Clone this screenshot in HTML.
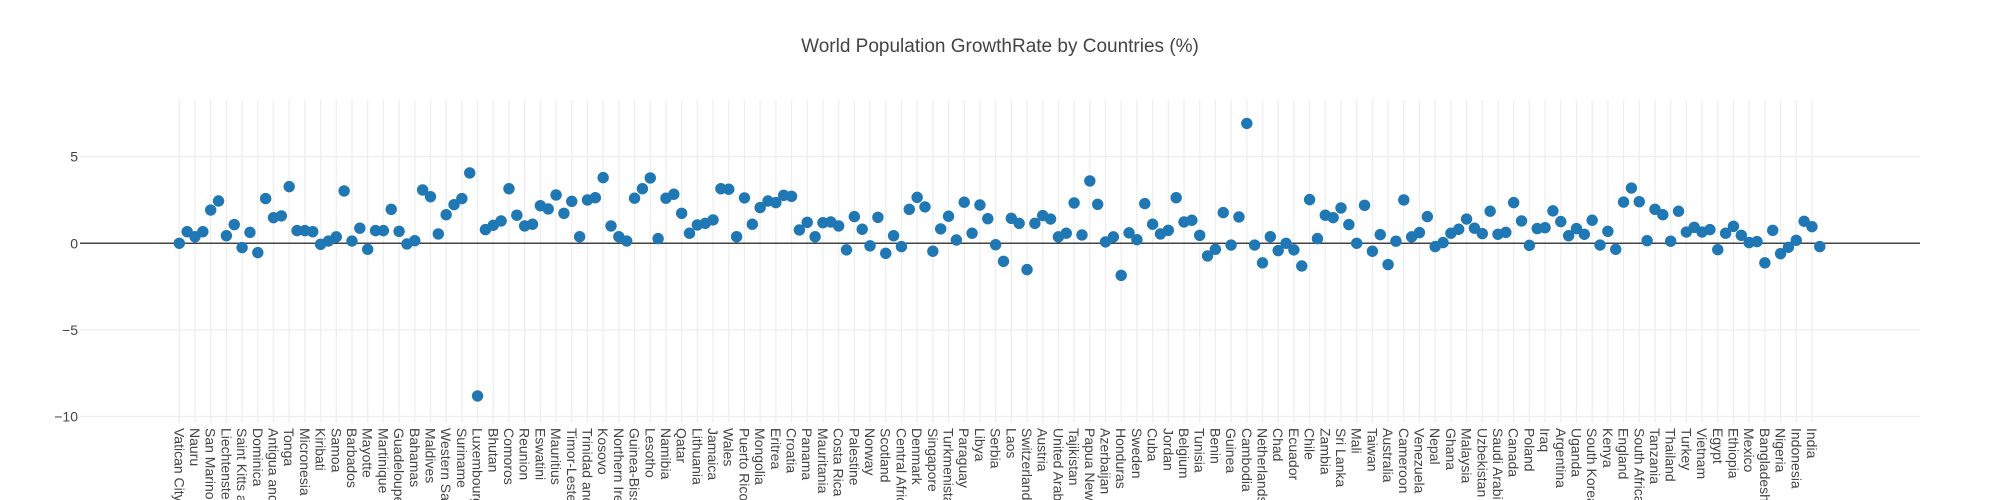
<!DOCTYPE html>
<html><head><meta charset="utf-8"><style>
html,body{margin:0;padding:0;background:#fff;width:2000px;height:500px;overflow:hidden;}
svg{display:block;font-family:"Liberation Sans",sans-serif;overflow:hidden;}
</style></head><body>
<svg id="chart" width="2000" height="500" viewBox="0 0 2000 500">
<defs><clipPath id="frameClip"><rect x="0" y="0" width="2000" height="500"/></clipPath></defs>
<text x="1000" y="52" text-anchor="middle" font-size="19" fill="#444">World Population GrowthRate by Countries (%)</text>
<g id="grid"></g><g id="yticks"></g><g id="xticks" clip-path="url(#frameClip)"></g><g id="points"></g>
</svg>
<script>
const labeledNames = ["Vatican City","Nauru","San Marino","Liechtenstein","Saint Kitts and Nevis","Dominica","Antigua and Barbuda","Tonga","Micronesia","Kiribati","Samoa","Barbados","Mayotte","Martinique","Guadeloupe","Bahamas","Maldives","Western Sahara","Suriname","Luxembourg","Bhutan","Comoros","Reunion","Eswatini","Mauritius","Timor-Leste","Trinidad and Tobago","Kosovo","Northern Ireland","Guinea-Bissau","Lesotho","Namibia","Qatar","Lithuania","Jamaica","Wales","Puerto Rico","Mongolia","Eritrea","Croatia","Panama","Mauritania","Costa Rica","Palestine","Norway","Scotland","Central African Republic","Denmark","Singapore","Turkmenistan","Paraguay","Libya","Serbia","Laos","Switzerland","Austria","United Arab Emirates","Tajikistan","Papua New Guinea","Azerbaijan","Honduras","Sweden","Cuba","Jordan","Belgium","Tunisia","Benin","Guinea","Cambodia","Netherlands","Chad","Ecuador","Chile","Zambia","Sri Lanka","Mali","Taiwan","Australia","Cameroon","Venezuela","Nepal","Ghana","Malaysia","Uzbekistan","Saudi Arabia","Canada","Poland","Iraq","Argentina","Uganda","South Korea","Kenya","England","South Africa","Tanzania","Thailand","Turkey","Vietnam","Egypt","Ethiopia","Mexico","Bangladesh","Nigeria","Indonesia","India"];
const otherNames = ["Tuvalu","Palau","Monaco","Marshall Islands","Saint Lucia","Grenada","Seychelles","Saint Vincent","Andorra","Aruba","Curacao","Guam","Sao Tome","Vanuatu","Belize","Iceland","Brunei","Cape Verde","Malta","Montenegro","Djibouti","Fiji","Equatorial Guinea","Guyana","Solomon Islands","Cyprus","Estonia","Gabon","Gambia","Botswana","Latvia","North Macedonia","Slovenia","Bahrain","Albania","Armenia","Liberia","Moldova","Kuwait","Oman","Georgia","Ireland","New Zealand","Lebanon","Bosnia","Uruguay","Congo","Kyrgyzstan","El Salvador","Slovakia","Nicaragua","Togo","Finland","Sierra Leone","Bulgaria","Israel","Hungary","Belarus","Burundi","Dominican Republic","Haiti","Greece","Portugal","Bolivia","Rwanda","Czech Republic","South Sudan","Somalia","Senegal","Zimbabwe","Guatemala","Kazakhstan","Syria","Romania","Burkina Faso","Malawi","Niger","Yemen","Angola","Mozambique","Ivory Coast","Madagascar","North Korea","Peru","Afghanistan","Morocco","Ukraine","Algeria","Sudan","Spain","Colombia","Myanmar","Italy","Iran","France","Germany","DR Congo","Philippines","Japan","Russia","Brazil","Pakistan","United States","China","Hong Kong"];
const categories = [];
for (let i = 0; i < 105; i++) { categories.push(labeledNames[i]); categories.push(otherNames[i]); }
const growthRates = [0,0.67,0.38,0.67,1.92,2.44,0.44,1.08,-0.25,0.63,-0.54,2.58,1.48,1.58,3.27,0.73,0.73,0.67,-0.06,0.13,0.37,3.02,0.13,0.87,-0.35,0.73,0.73,1.96,0.69,-0.04,0.15,3.08,2.69,0.54,1.65,2.23,2.58,4.06,-8.81,0.79,1.04,1.29,3.15,1.62,1.0,1.10,2.17,1.98,2.79,1.73,2.42,0.38,2.5,2.63,
3.79,1.0,0.38,0.13,2.6,3.15,3.77,0.27,2.6,2.83,1.73,0.58,1.06,1.15,1.35,3.15,3.12,0.38,2.62,1.10,2.06,2.44,2.35,2.77,2.71,0.77,1.21,0.38,1.19,1.23,1.0,-0.38,1.54,0.81,-0.15,1.5,-0.58,0.44,-0.19,1.96,2.65,2.1,-0.46,0.83,1.56,0.19,2.37,0.58,2.21,1.42,-0.08,-1.04,1.44,1.15,-1.52,
1.15,1.6,1.4,0.37,0.58,2.33,0.48,3.6,2.25,0.08,0.37,-1.85,0.6,0.21,2.29,1.10,0.54,0.75,2.63,1.23,1.33,0.46,-0.73,-0.35,1.77,-0.1,1.52,6.92,-0.1,-1.13,0.38,-0.42,0,-0.38,-1.31,2.52,0.27,1.62,1.48,2.04,1.08,0,2.19,-0.46,0.5,-1.23,0.12,2.5,0.37,0.62,1.54,-0.19,0.04,0.58,0.81,1.4,
0.87,0.56,1.85,0.52,0.63,2.35,1.29,-0.12,0.85,0.9,1.87,1.25,0.44,0.85,0.52,1.33,-0.1,0.69,-0.35,2.38,3.19,2.4,0.15,1.96,1.65,0.12,1.85,0.65,0.92,0.65,0.79,-0.37,0.58,0.98,0.46,0.04,0.1,-1.13,0.75,-0.6,-0.23,0.17,1.27,0.96,-0.19];
const yTickValues = [5, 0, -5, -10];
const yTickLabels = ["5", "0", "\u22125", "\u221210"];

const NS = "http://www.w3.org/2000/svg";
const PLOT_L = 80, PLOT_R = 1920, PLOT_T = 100, PLOT_B = 420;
const Y_MIN = -10.2, Y_MAX = 8.27;
function xScale(i) { return 179.3 + i * (1640.5 / (categories.length - 1)); }
function yScale(v) { return PLOT_B - (v - Y_MIN) / (Y_MAX - Y_MIN) * (PLOT_B - PLOT_T); }
function mk(tag, attrs, parent) { const e = document.createElementNS(NS, tag); for (const k in attrs) e.setAttribute(k, attrs[k]); parent.appendChild(e); return e; }

const grid = document.getElementById('grid');
const yt = document.getElementById('yticks');
const xt = document.getElementById('xticks');
const pts = document.getElementById('points');

yTickValues.forEach((v, k) => {
  const y = yScale(v);
  if (v !== 0) {
    const g = mk('line', {x1: PLOT_L, x2: PLOT_R, y1: y, y2: y, stroke: '#eee', 'stroke-width': 1.3}, grid);
    
    
  }
  const t = mk('text', {x: 78, y: y + 5, 'text-anchor': 'end', 'font-size': 14, fill: '#444'}, yt);
  t.textContent = yTickLabels[k];
  
  
});

categories.forEach((c, i) => {
  if (i % 2 !== 0) return;
  const x = xScale(i);
  const g = mk('line', {x1: x, x2: x, y1: PLOT_T, y2: PLOT_B + 3, stroke: '#eee', 'stroke-width': 1.3}, grid);
  
  
  const t = mk('text', {x: 0, y: 0, 'font-size': 14, fill: '#444', transform: 'translate(' + (x - 5) + ',' + (PLOT_B + 8) + ') rotate(90)'}, xt);
  t.textContent = c;
  
  
});

const zl = mk('line', {x1: PLOT_L, x2: PLOT_R, y1: yScale(0), y2: yScale(0), stroke: '#444', 'stroke-width': 1.5}, grid);



growthRates.forEach((v, i) => {
  const c = mk('circle', {cx: xScale(i), cy: yScale(v), r: 5.7, fill: '#1f77b4'}, pts);
  
  
});
</script>
</body></html>
